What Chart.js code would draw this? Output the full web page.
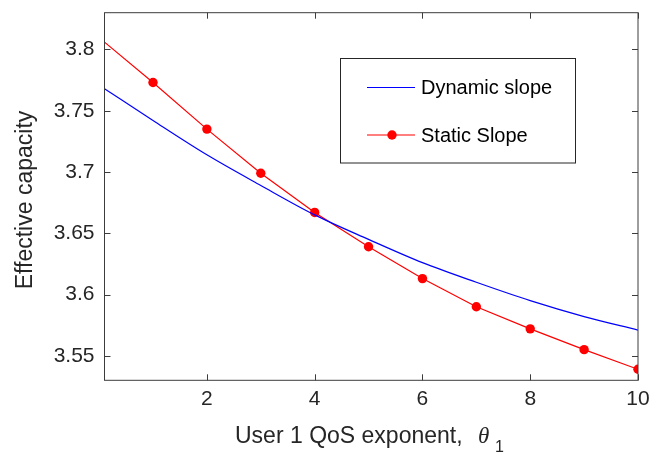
<!DOCTYPE html>
<html>
<head>
<meta charset="utf-8">
<script src="https://cdn.jsdelivr.net/npm/chart.js@4.4.1/dist/chart.umd.min.js"></script>
<style>
  html, body { margin: 0; padding: 0; background: #fff; }
  #wrap { width: 652px; height: 455px; }
</style>
</head>
<body>
<div id="wrap"><canvas id="cap" width="652" height="455"></canvas></div>
<script>
// theta_1 samples
const dynX = [0.1, 1, 2, 3, 4, 5, 6, 7, 8, 9, 10]
const dynY = [3.768, 3.742, 3.714, 3.689, 3.665, 3.645, 3.626, 3.610, 3.595, 3.582, 3.571]

const statX = [0.1, 1, 2, 3, 4, 5, 6, 7, 8, 9, 10]
const statY = [3.806, 3.773, 3.735, 3.699, 3.667, 3.639, 3.613, 3.590, 3.572, 3.555, 3.539]

const xTicks = [2, 4, 6, 8, 10]
const yTicks = [3.55, 3.6, 3.65, 3.7, 3.75, 3.8]

const labels = ["Dynamic slope", "Static Slope"]
const xTitle = "User 1 QoS exponent,"
const yTitle = "Effective capacity"

const FONT = "'Liberation Sans', Arial, sans-serif"
const INK = "#262626"

const toPts = (xs, ys) => xs.map((x, i) => ({ x: x, y: ys[i] }))

// box + inward ticks, legend, axis titles (matlab look)
const frame = {
  id: "frame",
  afterDraw(chart) {
    const { ctx, chartArea: a, scales } = chart
    const sx = scales.x, sy = scales.y
    ctx.save()
    ctx.strokeStyle = "#3c3c3c"
    ctx.lineWidth = 1
    ctx.strokeRect(a.left, a.top, a.right - a.left, a.bottom - a.top)

    ctx.beginPath()
    xTicks.forEach(v => {
      const px = Math.round(sx.getPixelForValue(v)) + 0.5
      ctx.moveTo(px, a.bottom); ctx.lineTo(px, a.bottom - 6)
      ctx.moveTo(px, a.top); ctx.lineTo(px, a.top + 6)
    })
    yTicks.forEach(v => {
      const py = Math.round(sy.getPixelForValue(v)) + 0.5
      ctx.moveTo(a.left, py); ctx.lineTo(a.left + 6, py)
      ctx.moveTo(a.right, py); ctx.lineTo(a.right - 6, py)
    })
    ctx.stroke()

    // legend
    const lx = 340.5, ly = 58.5, lw = 235, lh = 104.5
    ctx.fillStyle = "#fff"
    ctx.fillRect(lx, ly, lw, lh)
    ctx.strokeStyle = INK
    ctx.strokeRect(lx, ly, lw, lh)

    const rows = [87.5, 135]
    const cols = ["#0000ff", "#ff0000"]
    ctx.lineWidth = 1.2
    rows.forEach((ry, i) => {
      ctx.strokeStyle = cols[i]
      ctx.beginPath(); ctx.moveTo(367, ry); ctx.lineTo(415, ry); ctx.stroke()
    })
    ctx.fillStyle = "#ff0000"
    ctx.beginPath(); ctx.arc(392, rows[1], 4.7, 0, Math.PI * 2); ctx.fill()

    ctx.fillStyle = "#000"
    ctx.font = "20px " + FONT
    ctx.textBaseline = "middle"
    ctx.textAlign = "left"
    labels.forEach((t, i) => ctx.fillText(t, 421, rows[i] + 1))

    // x title with theta_1
    ctx.fillStyle = INK
    ctx.textBaseline = "alphabetic"
    ctx.font = "23px " + FONT
    ctx.fillText(xTitle, 235, 443)
    ctx.font = "italic 23px 'Liberation Serif', 'Times New Roman', serif"
    ctx.fillText("\u03b8", 478, 443)
    ctx.font = "16px " + FONT
    ctx.fillText("1", 495, 452)

    // y title
    ctx.translate(32, 200)
    ctx.rotate(-Math.PI / 2)
    ctx.textAlign = "center"
    ctx.font = "23px " + FONT
    ctx.fillText(yTitle, 0, 0)
    ctx.restore()
  }
}

new Chart(document.getElementById("cap"), {
  type: "line",
  data: {
    datasets: [
      {
        label: labels[0],
        data: toPts(dynX, dynY),
        borderColor: "#0000ff",
        borderWidth: 1.2,
        pointRadius: 0,
        cubicInterpolationMode: "monotone",
      },
      {
        label: labels[1],
        data: toPts(statX, statY),
        borderColor: "#ff0000",
        backgroundColor: "#ff0000",
        borderWidth: 1.2,
        pointRadius: statX.map((x, i) => (i === 0 ? 0 : 4.7)),
        pointBorderWidth: 0,
        tension: 0,
      },
    ],
  },
  options: {
    responsive: false,
    animation: false,
    layout: { padding: { left: 0, top: 12.7, right: 14, bottom: 0 } },
    plugins: { legend: { display: false }, tooltip: { enabled: false } },
    scales: {
      x: {
        type: "linear",
        min: 0.1,
        max: 10,
        grid: { display: false, drawTicks: false },
        border: { display: false },
        afterBuildTicks: s => { s.ticks = xTicks.map(v => ({ value: v })) },
        afterFit: s => { s.height = 74.7; s.paddingLeft = 0; s.paddingRight = 0 },
        ticks: {
          color: INK,
          font: { family: FONT, size: 21 },
          padding: 6,
          maxRotation: 0,
          callback: v => String(v),
        },
      },
      y: {
        type: "linear",
        min: 3.53,
        max: 3.83,
        grid: { display: false, drawTicks: false },
        border: { display: false },
        afterBuildTicks: s => { s.ticks = yTicks.map(v => ({ value: v })) },
        afterFit: s => { s.width = 104.5; s.paddingTop = 0; s.paddingBottom = 0 },
        ticks: {
          color: INK,
          font: { family: FONT, size: 21 },
          padding: 10,
          callback: v => String(v),
        },
      },
    },
  },
  plugins: [frame],
})
</script>
</body>
</html>
